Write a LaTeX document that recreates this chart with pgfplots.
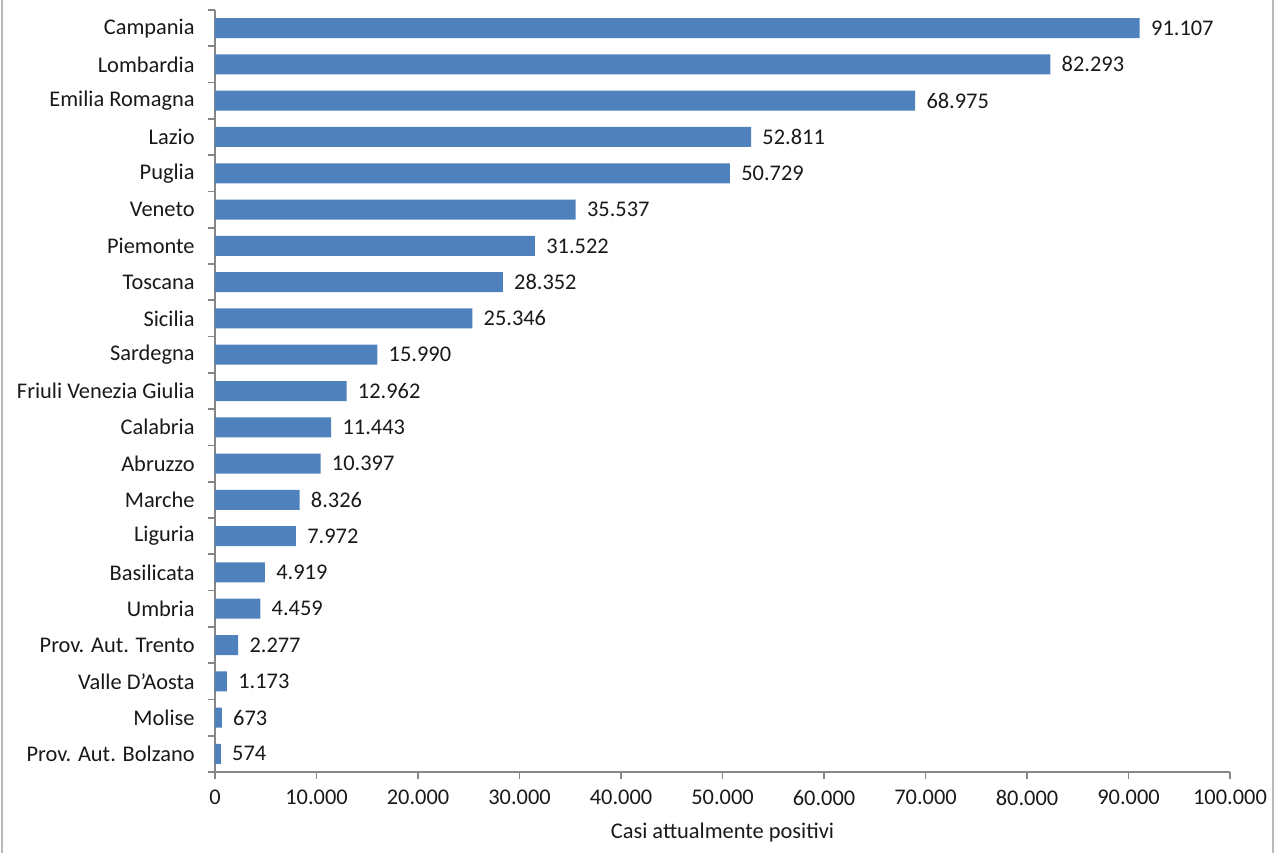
\documentclass[border=0pt]{standalone}
\usepackage{pgfplots}
\pgfplotsset{compat=1.18}
\usepackage{pgfplotstable}
\usepackage{fontspec}
\setmainfont{Carlito}
\definecolor{barblue}{RGB}{79,129,189}
\definecolor{axisgray}{RGB}{134,134,134}
\newcommand\lbl{\fontsize{11.2}{13.4}\selectfont}

% regions listed bottom to top
\pgfplotstableread{
idx value
0 574
1 673
2 1173
3 2277
4 4459
5 4919
6 7972
7 8326
8 10397
9 11443
10 12962
11 15990
12 25346
13 28352
14 31522
15 35537
16 50729
17 52811
18 68975
19 82293
20 91107
}\casi

\begin{document}
\begin{tikzpicture}
\path[use as bounding box] (0,0) rectangle (640pt,426.5pt);
\draw[gray!55, line width=1pt] (1.2pt,0) -- (1.2pt,426.5pt);
\draw[gray!55, line width=1pt] (636.3pt,0) -- (636.3pt,426.5pt);
\begin{axis}[
  at={(107.5pt,40.5pt)}, anchor=south west, scale only axis,
  width=507.5pt, height=381pt,
  xbar, bar width=10pt,
  xmin=0, xmax=100000, ymin=-0.5, ymax=20.5,
  axis x line*=bottom, axis y line*=left,
  axis line style={axisgray, line width=0.8pt},
  xtick={0,10000,...,100000}, scaled x ticks=false,
  ytick={0,...,20},
  yticklabels={Prov. Aut. Bolzano, Molise, Valle D'Aosta, Prov. Aut. Trento, Umbria, Basilicata, Liguria, Marche, Abruzzo, Calabria, Friuli Venezia Giulia, Sardegna, Sicilia, Toscana, Piemonte, Veneto, Puglia, Lazio, Emilia Romagna, Lombardia, Campania},
  minor ytick={-0.5,0.5,...,20.5},
  tick align=outside,
  major tick length=3.5pt, minor tick length=3.5pt,
  major y tick style={draw=none},
  minor y tick style={axisgray, line width=0.8pt},
  major x tick style={axisgray, line width=0.8pt},
  yticklabel style={font=\lbl, text=black!90, inner sep=0pt, xshift=-6.5pt},
  xticklabel style={font=\lbl, text=black!90, yshift=-2pt},
  xlabel={Casi attualmente positivi},
  xlabel style={font=\lbl, text=black!90, at={(axis description cs:0.5,0)}, anchor=center, yshift=-30.5pt},
  point meta=x,
  nodes near coords={\pgfmathprintnumber{\pgfplotspointmeta}},
  every node near coord/.append style={font=\lbl, text=black!90, anchor=west, inner sep=0pt, xshift=5.5pt},
  /pgf/number format/fixed,
  /pgf/number format/precision=0,
  /pgf/number format/1000 sep={.},
  /pgf/number format/assume math mode=true,
]
\addplot[fill=barblue, draw=none] table[x=value, y=idx] {\casi};
\end{axis}
\end{tikzpicture}
\end{document}
